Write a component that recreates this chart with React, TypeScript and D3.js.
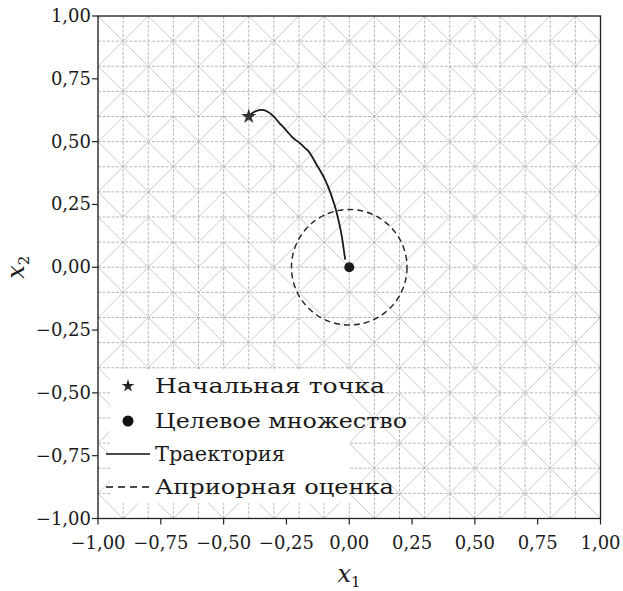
import React from "react";
import * as d3 from "d3";

const W = 623;
const H = 591;

const xTicks = [-1, -0.75, -0.5, -0.25, 0, 0.25, 0.5, 0.75, 1];
const yTicks = [-1, -0.75, -0.5, -0.25, 0, 0.25, 0.5, 0.75, 1];

// Mesh: 20x20 cells, each cell's diagonal orientation given by parity (0 even / 1 odd)
const meshParity = [
  "00000000111111110011",
  "00000000111111110011",
  "00000000111111011100",
  "00000000111111011100",
  "11111110011111111111",
  "11111110011111111111",
  "11111110000111111111",
  "11110000011000111011",
  "00011100000000111001",
  "00000011000000111011",
  "00011111111000111111",
  "00001111111000111000",
  "00000110000000110000",
  "00000110000000110000",
  "00000000000001110000",
  "11111111111111110000",
  "11111111111111110000",
  "11111111111111110000",
  "11111111111111110000",
  "11111111111111110000",
];
const meshStep = 0.1;

const trajX = [-0.4, -0.388, -0.372, -0.355, -0.34, -0.325, -0.31, -0.295, -0.278, -0.262, -0.245, -0.228, -0.213, -0.2, -0.19, -0.178, -0.166, -0.155, -0.142, -0.128, -0.112, -0.098, -0.086, -0.076, -0.066, -0.056, -0.047, -0.038, -0.03, -0.024, -0.019, -0.016];
const trajY = [0.6, 0.612, 0.621, 0.626, 0.625, 0.619, 0.609, 0.594, 0.574, 0.558, 0.538, 0.519, 0.506, 0.497, 0.488, 0.476, 0.466, 0.452, 0.43, 0.405, 0.378, 0.352, 0.325, 0.3, 0.27, 0.24, 0.205, 0.165, 0.125, 0.085, 0.05, 0.03];

const startPoint = [-0.4, 0.6];
const targetPoint = [0, 0];
const priorRadius = 0.23;

const legendLabels = ["Начальная точка", "Целевое множество", "Траектория", "Априорная оценка"];
const legendWidths = [230, 252, 130, 239];

const fmt = (v: number) => d3.format(".2f")(v).replace(".", ",").replace("-", "\u2212");

export default function App() {
  const x = d3.scaleLinear().domain([-1, 1]).range([98, 600.5]);
  const y = d3.scaleLinear().domain([-1, 1]).range([518.5, 16]);

  const gridVals = d3.range(0, 21).map((i) => -1 + i * meshStep);

  const diagonals: { x1: number; y1: number; x2: number; y2: number }[] = [];
  meshParity.forEach((row, r) => {
    row.split("").forEach((ch, c) => {
      const p = +ch;
      const nx = (cc: number) => x(-1 + cc * meshStep);
      const ny = (rr: number) => y(1 - rr * meshStep);
      if ((c + r) % 2 === p) {
        diagonals.push({ x1: nx(c), y1: ny(r), x2: nx(c + 1), y2: ny(r + 1) });
      } else {
        diagonals.push({ x1: nx(c + 1), y1: ny(r), x2: nx(c), y2: ny(r + 1) });
      }
    });
  });

  const line = d3
    .line<number>()
    .x((_, i) => x(trajX[i]))
    .y((d) => y(d))
    .curve(d3.curveCatmullRom.alpha(0.5));
  const trajPath = line(trajY) || "";

  const starPath = d3.symbol().type(d3.symbolStar).size(70)() || "";
  const starLegend = d3.symbol().type(d3.symbolStar).size(50)() || "";

  const r0 = x(priorRadius) - x(0);

  const legendY = [386, 421, 454, 487];
  const font = "DejaVu Serif, Liberation Serif, serif";

  return (
    <svg width={W} height={H} style={{ position: "absolute", left: 0, top: 0, background: "#fff", fontFamily: font }}>
      <rect x={0} y={0} width={W} height={H} fill="#fff" />
      {/* mesh diagonals */}
      <g stroke="#c4c4c4" strokeWidth={0.9}>
        {diagonals.map((d, i) => (
          <line key={i} x1={d.x1} y1={d.y1} x2={d.x2} y2={d.y2} />
        ))}
      </g>
      {/* mesh grid lines */}
      <g stroke="#b0b0b0" strokeWidth={0.9} strokeDasharray="3,1.5">
        {gridVals.map((v, i) => (
          <line key={"v" + i} x1={x(v)} x2={x(v)} y1={y(-1)} y2={y(1)} />
        ))}
        {gridVals.map((v, i) => (
          <line key={"h" + i} y1={y(v)} y2={y(v)} x1={x(-1)} x2={x(1)} />
        ))}
      </g>

      {/* prior estimate circle */}
      <circle cx={x(targetPoint[0])} cy={y(targetPoint[1])} r={r0} fill="none" stroke="#222" strokeWidth={1.4} strokeDasharray="6,4" />

      {/* trajectory */}
      <path d={trajPath} fill="none" stroke="#1a1a1a" strokeWidth={1.8} />

      {/* start point */}
      <path d={starPath} transform={`translate(${x(startPoint[0])},${y(startPoint[1])})`} fill="#333" />
      {/* target */}
      <circle cx={x(targetPoint[0])} cy={y(targetPoint[1])} r={5} fill="#1a1a1a" />

      {/* legend */}
      <rect x={110} y={369} width={240} height={134} fill="#fff" />
      <path d={starLegend} transform={`translate(128,${legendY[0]})`} fill="#222" />
      <circle cx={128} cy={legendY[1]} r={5.5} fill="#111" />
      <line x1={106} x2={150} y1={legendY[2]} y2={legendY[2]} stroke="#111" strokeWidth={1.4} />
      <line x1={106} x2={150} y1={legendY[3]} y2={legendY[3]} stroke="#111" strokeWidth={1.4} strokeDasharray="7,5" />
      {legendLabels.map((t, i) => (
        <text key={t} x={155} y={legendY[i] + 7} fontSize={21} fill="#1a1a1a" fontFamily={font} textLength={legendWidths[i]} lengthAdjust="spacingAndGlyphs">
          {t}
        </text>
      ))}

      {/* frame */}
      <rect x={x(-1)} y={y(1)} width={x(1) - x(-1)} height={y(-1) - y(1)} fill="none" stroke="#222" strokeWidth={1.3} />

      {/* x axis ticks */}
      {xTicks.map((t) => (
        <g key={"xt" + t}>
          <line x1={x(t)} x2={x(t)} y1={y(-1)} y2={y(-1) + 6} stroke="#222" strokeWidth={1.2} />
          <text x={x(t)} y={549} textAnchor="middle" fontSize={18} fill="#1a1a1a" fontFamily={font}>
            {fmt(t)}
          </text>
        </g>
      ))}
      {/* y axis ticks */}
      {yTicks.map((t) => (
        <g key={"yt" + t}>
          <line x1={x(-1) - 6} x2={x(-1)} y1={y(t)} y2={y(t)} stroke="#222" strokeWidth={1.2} />
          <text x={91} y={y(t) + 6} textAnchor="end" fontSize={18} fill="#1a1a1a" fontFamily={font}>
            {fmt(t)}
          </text>
        </g>
      ))}

      {/* axis labels */}
      <text x={349} y={582} textAnchor="middle" fontSize={24} fill="#1a1a1a" fontFamily={font}>
        <tspan fontStyle="italic">x</tspan>
        <tspan fontSize={15} dy={5}>1</tspan>
      </text>
      <text transform={`translate(24,${y(0)}) rotate(-90)`} textAnchor="middle" fontSize={24} fill="#1a1a1a" fontFamily={font}>
        <tspan fontStyle="italic">x</tspan>
        <tspan fontSize={15} dy={5}>2</tspan>
      </text>
    </svg>
  );
}
